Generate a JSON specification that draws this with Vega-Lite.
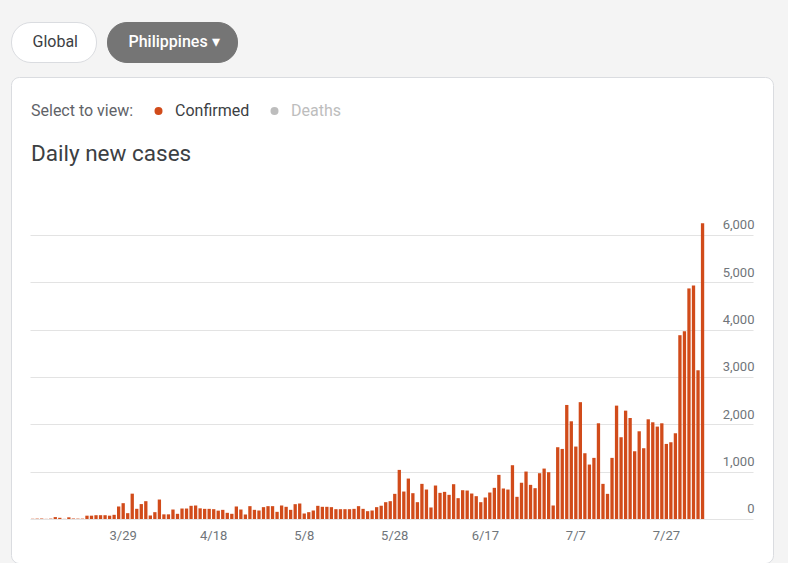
{
  "$schema": "https://vega.github.io/schema/vega-lite/v6.json",
  "autosize": {"type": "none"},
  "width": 762,
  "height": 486,
  "padding": {"left": 11, "top": 77, "right": 15, "bottom": 0},
  "background": "#f4f4f4",
  "config": {
    "font": "Roboto",
    "view": {"fill": "#ffffff", "stroke": "#dadce0", "strokeWidth": 1, "cornerRadius": 8}
  },
  "title": {
    "text": "Daily new cases",
    "anchor": "start",
    "frame": "group",
    "orient": "top",
    "baseline": "alphabetic",
    "offset": -162,
    "dx": 20,
    "fontSize": 22.5,
    "fontWeight": "normal",
    "color": "#3c4043"
  },
  "data": {
    "values": [
      {"d": "3/9", "v": 5}, {"d": "3/10", "v": 8}, {"d": "3/11", "v": 10}, {"d": "3/12", "v": 3}, {"d": "3/13", "v": 8},
      {"d": "3/14", "v": 40}, {"d": "3/15", "v": 25}, {"d": "3/16", "v": 3}, {"d": "3/17", "v": 35}, {"d": "3/18", "v": 8},
      {"d": "3/19", "v": 8}, {"d": "3/20", "v": 8}, {"d": "3/21", "v": 70}, {"d": "3/22", "v": 70}, {"d": "3/23", "v": 80},
      {"d": "3/24", "v": 80}, {"d": "3/25", "v": 80}, {"d": "3/26", "v": 70}, {"d": "3/27", "v": 88}, {"d": "3/28", "v": 264},
      {"d": "3/29", "v": 334}, {"d": "3/30", "v": 123}, {"d": "3/31", "v": 535},
      {"d": "4/1", "v": 215}, {"d": "4/2", "v": 315}, {"d": "4/3", "v": 376}, {"d": "4/4", "v": 74}, {"d": "4/5", "v": 144},
      {"d": "4/6", "v": 411}, {"d": "4/7", "v": 98}, {"d": "4/8", "v": 98}, {"d": "4/9", "v": 200}, {"d": "4/10", "v": 109},
      {"d": "4/11", "v": 221}, {"d": "4/12", "v": 221}, {"d": "4/13", "v": 278}, {"d": "4/14", "v": 285}, {"d": "4/15", "v": 225},
      {"d": "4/16", "v": 214}, {"d": "4/17", "v": 214}, {"d": "4/18", "v": 207}, {"d": "4/19", "v": 176}, {"d": "4/20", "v": 193},
      {"d": "4/21", "v": 130}, {"d": "4/22", "v": 109}, {"d": "4/23", "v": 264}, {"d": "4/24", "v": 200}, {"d": "4/25", "v": 95},
      {"d": "4/26", "v": 271}, {"d": "4/27", "v": 193}, {"d": "4/28", "v": 179}, {"d": "4/29", "v": 250}, {"d": "4/30", "v": 271},
      {"d": "5/1", "v": 271}, {"d": "5/2", "v": 151}, {"d": "5/3", "v": 285}, {"d": "5/4", "v": 257}, {"d": "5/5", "v": 193},
      {"d": "5/6", "v": 313}, {"d": "5/7", "v": 327}, {"d": "5/8", "v": 116}, {"d": "5/9", "v": 144}, {"d": "5/10", "v": 179},
      {"d": "5/11", "v": 278}, {"d": "5/12", "v": 257}, {"d": "5/13", "v": 257}, {"d": "5/14", "v": 250}, {"d": "5/15", "v": 207},
      {"d": "5/16", "v": 207}, {"d": "5/17", "v": 207}, {"d": "5/18", "v": 207}, {"d": "5/19", "v": 214}, {"d": "5/20", "v": 271},
      {"d": "5/21", "v": 214}, {"d": "5/22", "v": 165}, {"d": "5/23", "v": 179}, {"d": "5/24", "v": 250}, {"d": "5/25", "v": 280},
      {"d": "5/26", "v": 355}, {"d": "5/27", "v": 376}, {"d": "5/28", "v": 531}, {"d": "5/29", "v": 1037}, {"d": "5/30", "v": 580},
      {"d": "5/31", "v": 854},
      {"d": "6/1", "v": 545}, {"d": "6/2", "v": 355}, {"d": "6/3", "v": 742}, {"d": "6/4", "v": 622}, {"d": "6/5", "v": 243},
      {"d": "6/6", "v": 707}, {"d": "6/7", "v": 552}, {"d": "6/8", "v": 573}, {"d": "6/9", "v": 510}, {"d": "6/10", "v": 735},
      {"d": "6/11", "v": 440}, {"d": "6/12", "v": 608}, {"d": "6/13", "v": 601}, {"d": "6/14", "v": 538}, {"d": "6/15", "v": 482},
      {"d": "6/16", "v": 355}, {"d": "6/17", "v": 454}, {"d": "6/18", "v": 559}, {"d": "6/19", "v": 658}, {"d": "6/20", "v": 932},
      {"d": "6/21", "v": 644}, {"d": "6/22", "v": 622}, {"d": "6/23", "v": 1136}, {"d": "6/24", "v": 468}, {"d": "6/25", "v": 763},
      {"d": "6/26", "v": 1002}, {"d": "6/27", "v": 721}, {"d": "6/28", "v": 651}, {"d": "6/29", "v": 967}, {"d": "6/30", "v": 1065},
      {"d": "7/1", "v": 988}, {"d": "7/2", "v": 285}, {"d": "7/3", "v": 1516}, {"d": "7/4", "v": 1480}, {"d": "7/5", "v": 2409},
      {"d": "7/6", "v": 2064}, {"d": "7/7", "v": 1530}, {"d": "7/8", "v": 2468}, {"d": "7/9", "v": 1389}, {"d": "7/10", "v": 1150},
      {"d": "7/11", "v": 1291}, {"d": "7/12", "v": 2022}, {"d": "7/13", "v": 742}, {"d": "7/14", "v": 531}, {"d": "7/15", "v": 1291},
      {"d": "7/16", "v": 2395}, {"d": "7/17", "v": 1727}, {"d": "7/18", "v": 2289}, {"d": "7/19", "v": 2134}, {"d": "7/20", "v": 1431},
      {"d": "7/21", "v": 1853}, {"d": "7/22", "v": 1495}, {"d": "7/23", "v": 2106}, {"d": "7/24", "v": 2043}, {"d": "7/25", "v": 1952},
      {"d": "7/26", "v": 2022}, {"d": "7/27", "v": 1586}, {"d": "7/28", "v": 1621}, {"d": "7/29", "v": 1811}, {"d": "7/30", "v": 3883},
      {"d": "7/31", "v": 3967},
      {"d": "8/1", "v": 4871}, {"d": "8/2", "v": 4934}, {"d": "8/3", "v": 3142}, {"d": "8/4", "v": 6250}
    ]
  },
  "mark": {"type": "bar", "strokeWidth": 0},
  "encoding": {
    "x": {
      "field": "d",
      "type": "ordinal",
      "scale": {
        "domain": ["3/9","3/10","3/11","3/12","3/13","3/14","3/15","3/16","3/17","3/18","3/19","3/20","3/21","3/22","3/23","3/24","3/25","3/26","3/27","3/28","3/29","3/30","3/31",
          "4/1","4/2","4/3","4/4","4/5","4/6","4/7","4/8","4/9","4/10","4/11","4/12","4/13","4/14","4/15","4/16","4/17","4/18","4/19","4/20","4/21","4/22","4/23","4/24","4/25","4/26","4/27","4/28","4/29","4/30",
          "5/1","5/2","5/3","5/4","5/5","5/6","5/7","5/8","5/9","5/10","5/11","5/12","5/13","5/14","5/15","5/16","5/17","5/18","5/19","5/20","5/21","5/22","5/23","5/24","5/25","5/26","5/27","5/28","5/29","5/30","5/31",
          "6/1","6/2","6/3","6/4","6/5","6/6","6/7","6/8","6/9","6/10","6/11","6/12","6/13","6/14","6/15","6/16","6/17","6/18","6/19","6/20","6/21","6/22","6/23","6/24","6/25","6/26","6/27","6/28","6/29","6/30",
          "7/1","7/2","7/3","7/4","7/5","7/6","7/7","7/8","7/9","7/10","7/11","7/12","7/13","7/14","7/15","7/16","7/17","7/18","7/19","7/20","7/21","7/22","7/23","7/24","7/25","7/26","7/27","7/28","7/29","7/30","7/31",
          "8/1","8/2","8/3","8/4","8/5","8/6","8/7","8/8","8/9","8/10","8/11","8/12","8/13","8/14","8/15"],
        "range": [20, 743],
        "paddingInner": 0.27,
        "paddingOuter": 0
      },
      "axis": {
        "values": ["3/29", "4/18", "5/8", "5/28", "6/17", "7/7", "7/27"],
        "title": null,
        "domain": false,
        "ticks": false,
        "tickSize": 0,
        "grid": false,
        "labelAngle": 0,
        "labelPadding": 10,
        "offset": -34,
        "labelBaseline": "alphabetic",
        "labelColor": "#70757a",
        "labelFontSize": 13
      }
    },
    "y": {
      "field": "v",
      "type": "quantitative",
      "scale": {"domain": [-930, 9338], "nice": false, "zero": false},
      "axis": {
        "orient": "right",
        "values": [0, 1000, 2000, 3000, 4000, 5000, 6000],
        "format": ",.0f",
        "title": null,
        "domain": false,
        "ticks": false,
        "tickSize": 0,
        "labelPadding": 0,
        "offset": -19,
        "labelAlign": "right",
        "labelBaseline": "alphabetic",
        "labelOffset": -6,
        "labelColor": "#70757a",
        "labelFontSize": 13,
        "grid": true,
        "gridColor": "#e3e3e3",
        "gridWidth": 1
      }
    },
    "color": {
      "datum": "Confirmed",
      "type": "nominal",
      "scale": {"domain": ["Confirmed", "Deaths"], "range": ["#d14b1a", "#bdbdbd"]},
      "legend": {
        "title": "Select to view:",
        "orient": "none",
        "legendX": 20,
        "legendY": 26,
        "direction": "horizontal",
        "padding": 0.01,
        "titleOrient": "left",
        "titleFontSize": 16,
        "titleFontWeight": "normal",
        "titleColor": "#5f6368",
        "titlePadding": 16.5,
        "titleBaseline": "middle",
        "symbolType": "circle",
        "symbolSize": 64,
        "symbolStrokeWidth": 0.01,
        "labelFontSize": 16,
        "labelColor": "#3c4043",
        "labelOffset": 8.5,
        "columnPadding": 17,
        "encoding": {
          "labels": {
            "fill": {"condition": {"test": "datum.label === 'Deaths'", "value": "#bdbdbd"}, "value": "#3c4043"}
          }
        }
      }
    },
    "opacity": {
      "datum": "Global",
      "type": "ordinal",
      "scale": {"domain": ["Global"], "range": [1, 1]},
      "legend": {
        "title": " ",
        "titleOrient": "right",
        "titlePadding": 6,
        "titleFontSize": 1,
        "titleColor": "#ffffff",
        "orient": "none",
        "legendX": 0,
        "legendY": -55,
        "padding": 12,
        "fillColor": "#ffffff",
        "strokeColor": "#dadce0",
        "cornerRadius": 19.5,
        "symbolSize": 0.01,
        "symbolStrokeWidth": 0.01,
        "symbolOpacity": 0.01,
        "labelOffset": -6.5,
        "labelFontSize": 16,
        "labelColor": "#3c4043"
      }
    },
    "stroke": {
      "datum": "Philippines ▾",
      "type": "nominal",
      "scale": {"domain": ["Philippines ▾"], "range": ["#757575"]},
      "legend": {
        "title": " ",
        "titleOrient": "right",
        "titlePadding": 5,
        "titleFontSize": 1,
        "titleColor": "#757575",
        "orient": "none",
        "legendX": 96,
        "legendY": -55,
        "padding": 12,
        "fillColor": "#757575",
        "strokeColor": "#757575",
        "cornerRadius": 19.5,
        "symbolSize": 0.01,
        "symbolStrokeWidth": 0.01,
        "symbolOpacity": 0.01,
        "labelOffset": -6.5,
        "labelFontSize": 16,
        "labelFontWeight": 500,
        "labelColor": "#ffffff"
      }
    }
  }
}
